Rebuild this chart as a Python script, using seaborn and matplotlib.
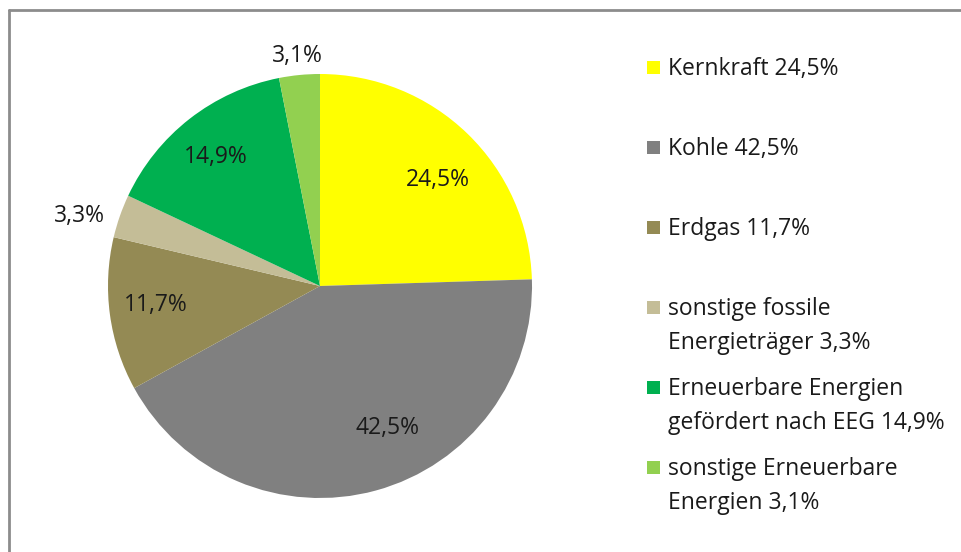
import numpy as np
import matplotlib.pyplot as plt
import seaborn as sns
from matplotlib.lines import Line2D
from matplotlib.patches import Rectangle

# data
categories = ['Kernkraft', 'Kohle', 'Erdgas', 'sonstige fossile\nEnergieträger',
              'Erneuerbare Energien\ngefördert nach EEG', 'sonstige Erneuerbare\nEnergien']
shares = [24.5, 42.5, 11.7, 3.3, 14.9, 3.1]
colors = ['#FFFF00', '#808080', '#948A54', '#C4BD97', '#00B050', '#92D050']

# label placement (style): radial distance and angular nudge per slice
label_dist = [0.75, 0.74, 0.78, 1.18, 0.78, 1.09]
label_shift = [-4, 10, -1, 3, 1, 0]

sns.set_theme(style='white')
plt.rcParams['font.family'] = ['Open Sans', 'DejaVu Sans']
txt_color = '#1a1a1a'
fs = 16.5

W, H = 962, 552
fig = plt.figure(figsize=(W / 100, H / 100), dpi=100)
fig.patch.set_facecolor('white')

cx, cy, r = 320, 286, 212
ax = fig.add_axes([(cx - r) / W, (H - cy - r) / H, 2 * r / W, 2 * r / H])
wedges, _ = ax.pie(shares, colors=colors, startangle=90, counterclock=False,
                   radius=1.0, wedgeprops=dict(linewidth=0))
ax.set_xlim(-1, 1)
ax.set_ylim(-1, 1)
ax.set_aspect('equal')
ax.axis('off')

for w, val, d, s in zip(wedges, shares, label_dist, label_shift):
    ang = np.deg2rad((w.theta1 + w.theta2) / 2 + s)
    ax.text(d * np.cos(ang), d * np.sin(ang), f'{val:.1f}%'.replace('.', ','),
            ha='center', va='center', fontsize=fs, color=txt_color, clip_on=False)

# legend drawn by hand so the marker lines up with the first text line
y0, step, line_h = 75, 80, 34
for i, (cat, val, col) in enumerate(zip(categories, shares, colors)):
    y = y0 + i * step
    fig.add_artist(Rectangle((647 / W, 1 - (y - 1) / H), 13 / W, 13 / H,
                             transform=fig.transFigure, facecolor=col, edgecolor='none'))
    label = f'{cat} {val:.1f}%'.replace('.', ',')
    for k, line in enumerate(label.split('\n')):
        fig.text(668 / W, 1 - (y + k * line_h) / H, line, ha='left', va='baseline',
                 fontsize=fs, color=txt_color)

# frame: top and left edges only
frame_col = '#8c8c8c'
fig.add_artist(Line2D([9 / W, 961 / W], [1 - 10 / H, 1 - 10 / H], color=frame_col,
                      linewidth=2, transform=fig.transFigure))
fig.add_artist(Line2D([9 / W, 9 / W], [1 - 10 / H, 0], color=frame_col,
                      linewidth=2, transform=fig.transFigure))

fig.savefig('out.png', dpi=100)
